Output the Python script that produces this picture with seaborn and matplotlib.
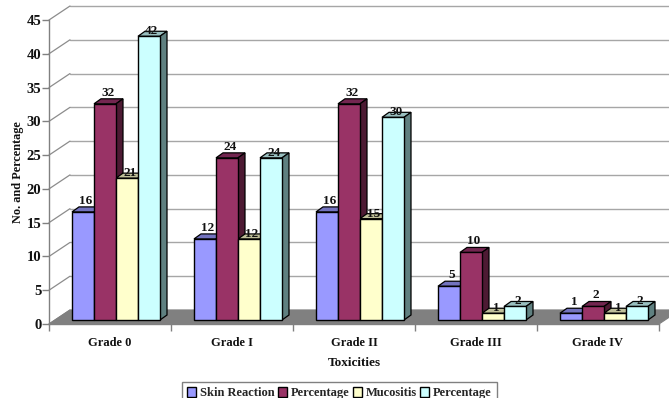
import matplotlib
matplotlib.use("Agg")
import matplotlib.pyplot as plt
import pandas as pd
import seaborn as sns
from matplotlib.patches import Polygon, Patch
from matplotlib.transforms import Affine2D

grades = ["Grade 0", "Grade I", "Grade II", "Grade III", "Grade IV"]
skin_reaction = [16, 12, 16, 5, 1]
skin_percentage = [32, 24, 32, 10, 2]
mucositis = [21, 12, 15, 1, 1]
mucositis_percentage = [42, 24, 30, 2, 2]
series_names = ["Skin Reaction", "Percentage", "Mucositis", "Percentage"]
y_ticks = [0, 5, 10, 15, 20, 25, 30, 35, 40, 45]

face_colors = ["#9999FF", "#993366", "#FFFFCC", "#CCFFFF"]
top_colors = ["#7373BF", "#732650", "#BFBF99", "#99BFBF"]
side_colors = ["#4D4D80", "#4D1A33", "#808066", "#5F8080"]
label_lift = [11, 11, 5, 5]
GREY = "#808080"

W, H = 669, 398
sns.set_style("white")
plt.rcParams["font.family"] = ["Liberation Serif", "DejaVu Serif"]
plt.rcParams["font.weight"] = "bold"
fig = plt.figure(figsize=(W / 100, H / 100), dpi=100, facecolor="white")
ax = fig.add_axes([49 / W, 1 - 324 / H, 610 / W, 304 / H])
ax.patch.set_visible(False)

keys = ["skin", "skin_pct", "muc", "muc_pct"]
values = [skin_reaction, skin_percentage, mucositis, mucositis_percentage]
frame = pd.DataFrame({
    "grade": [g for _ in keys for g in grades],
    "series": [k for k in keys for _ in grades],
    "value": [v for col in values for v in col],
})
sns.barplot(data=frame, x="grade", y="value", hue="series", order=grades,
            hue_order=keys, palette=face_colors, width=0.7213, gap=0,
            edgecolor="black", linewidth=1.0, saturation=1, legend=False,
            errorbar=None, ax=ax, zorder=3)

ax.set_xlim(-0.5, 4.5)
ax.set_ylim(0, 45)


def shift(dx, dy):
    """Data transform moved dx pixels right and dy pixels up."""
    return ax.transData + Affine2D().translate(dx, dy)


# Depth of the chart box and of each bar, in pixels
BOX_DX, BOX_DY = 21, 14
BAR_DX, BAR_DY = 7, 5
FRONT_DX, FRONT_DY = 6, 4
ident = Affine2D()

# Floor and wall grid
(x0, y0), (x1, y1) = ax.transData.transform([(-0.5, 0), (4.5, 0)])
ax.add_patch(Polygon([(x0, y0), (x1, y1), (x1 + BOX_DX, y1 + BOX_DY), (x0 + BOX_DX, y0 + BOX_DY)],
                     closed=True, facecolor=GREY, edgecolor=GREY, lw=0.8,
                     transform=ident, zorder=1, clip_on=False))
back = shift(BOX_DX, BOX_DY)
for tick in y_ticks:
    ax.plot([-0.5, 4.6], [tick, tick], color="#A6A6A6", lw=1.0, transform=back,
            zorder=0.5, clip_on=False)
    px, py = ax.transData.transform((-0.5, tick))
    ax.plot([px, px + BOX_DX], [py, py + BOX_DY], color="#8C8C8C", lw=0.9,
            transform=ident, zorder=0.6, clip_on=False)

# Front faces come from seaborn; give each its depth sides and value label
for s, container in enumerate(ax.containers):
    for bar, val in zip(container, values[s]):
        bar.set_transform(shift(FRONT_DX, FRONT_DY))
        bar.set_clip_on(False)
        left = bar.get_x()
        right = left + bar.get_width()
        lx, by = ax.transData.transform((left, 0))
        rx, ty = ax.transData.transform((right, val))
        lx += FRONT_DX
        rx += FRONT_DX
        by += FRONT_DY
        ty += FRONT_DY
        top = [(lx, ty), (rx, ty), (rx + BAR_DX, ty + BAR_DY), (lx + BAR_DX, ty + BAR_DY)]
        side = [(rx, by), (rx + BAR_DX, by + BAR_DY), (rx + BAR_DX, ty + BAR_DY), (rx, ty)]
        ax.add_patch(Polygon(top, closed=True, facecolor=top_colors[s], edgecolor="black",
                             lw=0.9, transform=ident, zorder=2, clip_on=False))
        ax.add_patch(Polygon(side, closed=True, facecolor=side_colors[s], edgecolor="black",
                             lw=0.9, transform=ident, zorder=2, clip_on=False))
        ax.text((lx + rx) / 2 + 3, ty + label_lift[s], str(val), transform=ident,
                ha="center", va="center", fontsize=9.5, fontweight="bold",
                color="#111111", zorder=5, clip_on=False)

# Axes: category labels sit between the boundary ticks
sns.despine(ax=ax, top=True, right=True)
for name in ("left", "bottom"):
    ax.spines[name].set_color(GREY)
    ax.spines[name].set_linewidth(1.0)
ax.set_yticks(y_ticks)
ax.set_yticklabels([str(t) for t in y_ticks], fontsize=10.5, fontweight="bold", color="#111111")
ax.tick_params(axis="y", length=5, width=1, color=GREY, pad=0.5, left=True)
ax.set_xticks([i - 0.5 for i in range(6)])
ax.set_xticklabels([])
ax.set_xticks(range(5), minor=True)
ax.set_xticklabels(grades, minor=True, fontsize=9, fontweight="bold", color="#111111")
ax.tick_params(axis="x", which="major", length=5, width=1, color=GREY, bottom=True)
ax.tick_params(axis="x", which="minor", length=0, pad=9, bottom=False)
ax.set_xlabel("Toxicities", fontsize=9.5, fontweight="bold", color="#111111", labelpad=6)
ax.set_ylabel("No. and Percentage", fontsize=8.8, fontweight="bold", color="#111111", labelpad=2)

handles = [Patch(facecolor=c, edgecolor="black", lw=1.0) for c in face_colors]
fig.legend(handles, series_names, loc="lower center", bbox_to_anchor=(339.5 / W, -7 / H),
           ncol=4, frameon=True, fancybox=False, edgecolor=GREY, framealpha=1,
           prop={"size": 9, "weight": "bold", "family": "Liberation Serif"},
           handlelength=0.7, handleheight=0.8, handletextpad=0.3, columnspacing=0.3,
           borderpad=0.45, borderaxespad=0)

fig.savefig("out.png", dpi=100)
